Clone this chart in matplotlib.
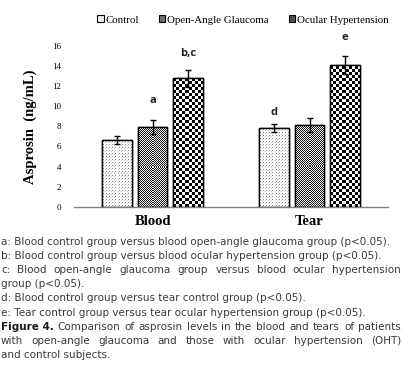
import matplotlib
matplotlib.use("Agg")
import matplotlib.pyplot as plt
import numpy as np
from matplotlib.patches import Patch

# data
groups = ["Blood", "Tear"]
series = ["Control", "Open-Angle Glaucoma", "Ocular Hypertension"]
control = [6.6, 7.8]
oag = [7.9, 8.1]
oht = [12.8, 14.1]
control_err = [0.4, 0.4]
oag_err = [0.7, 0.7]
oht_err = [0.85, 0.9]
sig_labels = {(0, 1): "a", (0, 2): "b,c", (1, 0): "d", (1, 2): "e"}
sig_heights = {(0, 1): 10.6, (0, 2): 15.3, (1, 0): 9.4, (1, 2): 16.8}

# (bold prefix, text, justify)
caption_lines = [
  ("", "a: Blood control group versus blood open-angle glaucoma group (p<0.05).", False),
  ("", "b: Blood control group versus blood ocular hypertension group (p<0.05).", False),
  ("", "c: Blood open-angle glaucoma group versus blood ocular hypertension", True),
  ("", "group (p<0.05).", False),
  ("", "d: Blood control group versus tear control group (p<0.05).", False),
  ("", "e: Tear control group versus tear ocular hypertension group (p<0.05).", False),
  ("Figure 4.", "Comparison of asprosin levels in the blood and tears of patients", True),
  ("", "with open-angle glaucoma and those with ocular hypertension (OHT)", True),
  ("", "and control subjects.", False),
]

W, H = 403, 369
fig = plt.figure(figsize=(W / 100, H / 100), dpi=100)
ax = fig.add_axes([74 / W, 1 - 206.7 / H, 314 / W, 160.7 / H])

x = np.arange(len(groups))
width = 0.185
offsets = [-0.226, 0.0, 0.226]
vals = [control, oag, oht]
errs = [control_err, oag_err, oht_err]


def texture(kind, nx, ny):
  j, i = np.meshgrid(np.arange(nx), np.arange(ny))
  if kind == 0:
    t = np.ones((ny, nx))
    t[((i % 3) == 1) & ((j % 3) == 1)] = 0.55
    t[((i % 3) == 0) & ((j % 3) == 0)] = 0.8
  elif kind == 1:
    t = ((i + j) % 2).astype(float) * 0.85 + 0.1
  else:
    t = (((i // 3) + (j // 3)) % 2).astype(float)
  return t


ax.set_xlim(-0.5, 1.5)
ax.set_ylim(0, 16)
fig.canvas.draw()
for k in range(3):
  bars = ax.bar(x + offsets[k], vals[k], width, color="white",
                edgecolor="black", linewidth=1.0, zorder=2)
  for b in bars:
    x0, y0 = b.get_x(), b.get_y()
    x1, y1 = x0 + b.get_width(), y0 + b.get_height()
    p0 = ax.transData.transform((x0, y0))
    p1 = ax.transData.transform((x1, y1))
    nx = max(int(round(p1[0] - p0[0])), 1)
    ny = max(int(round(p1[1] - p0[1])), 1)
    im = ax.imshow(texture(k, nx, ny), cmap="gray", vmin=0, vmax=1,
                   extent=(x0, x1, y0, y1), origin="lower",
                   interpolation="nearest", aspect="auto", zorder=2.5)
    im.set_clip_path(b)
    ax.add_patch(plt.Rectangle((x0, y0), x1 - x0, y1 - y0, fill=False,
                               edgecolor="black", linewidth=1.0, zorder=3))
  ax.errorbar(x + offsets[k], vals[k], yerr=errs[k], fmt="none",
              ecolor="black", elinewidth=1.0, capsize=2.5, capthick=1.0,
              zorder=4)
ax.set_xlim(-0.5, 1.5)
ax.set_ylim(0, 16)

for (g, k), lab in sig_labels.items():
  ax.text(x[g] + offsets[k], sig_heights[(g, k)], lab, ha="center",
          va="center", fontsize=8, fontweight="bold", family="Open Sans",
          color="#222222", clip_on=False)

for s in ["top", "right", "left"]:
  ax.spines[s].set_visible(False)
ax.spines["bottom"].set_color("#7f7f7f")
ax.spines["bottom"].set_linewidth(1.0)
ax.set_yticks(np.arange(0, 17, 2))
ax.tick_params(axis="y", length=0, labelsize=6.5, pad=9)
ax.tick_params(axis="x", length=0, labelsize=10.5, pad=6)
for t in ax.get_yticklabels():
  t.set_family("Liberation Serif")
ax.set_xticks(x)
ax.set_xticklabels(groups, family="Liberation Serif", fontweight="bold")
ax.set_ylabel("Asprosin  (ng/mL)", family="Liberation Serif",
              fontweight="bold", fontsize=10.5, labelpad=11)

handles = [Patch(facecolor=c, edgecolor="black", linewidth=0.8)
           for c in ["#f0f0f0", "#707070", "#505050"]]
fig.legend(handles, series, loc="center", bbox_to_anchor=(243 / W, 1 - 20 / H),
           ncol=3, frameon=False, prop={"family": "Liberation Serif", "size": 7.8},
           handlelength=0.6, handleheight=0.6, handletextpad=0.2,
           columnspacing=1.8)

# caption
cfam = "DejaVu Sans"
ystart = 242
dy = 14.1
left_px = 1
right_px = 401
fig.canvas.draw()
renderer = fig.canvas.get_renderer()


def measure(s, size, bold=False):
  t = fig.text(0, 0, s, fontsize=size, family=cfam,
               fontweight="bold" if bold else "normal")
  w = t.get_window_extent(renderer).width
  t.remove()
  return w


# fit the font so the first note spans like the reference (~390 px)
fs = 7.0 * 389 / measure(caption_lines[0][1], 7.0)


def put(xpx, ypx, s, bold=False):
  fig.text(xpx / W, 1 - ypx / H, s, fontsize=fs, family=cfam,
           fontweight="bold" if bold else "normal",
           color="#1a1a1a" if bold else "#3a3a3a", va="center", ha="left")


space_w = measure("a a", fs) - measure("aa", fs)
for n, (bold, line, justify) in enumerate(caption_lines):
  ypx = ystart + n * dy
  xpx = left_px
  if bold:
    put(xpx, ypx, bold, bold=True)
    xpx += measure(bold, fs, bold=True) + space_w
  if not justify:
    put(xpx, ypx, line)
    continue
  words = line.split(" ")
  widths = [measure(w, fs) for w in words]
  gap = (right_px - xpx - sum(widths)) / (len(words) - 1)
  for w, ww in zip(words, widths):
    put(xpx, ypx, w)
    xpx += ww + gap

fig.savefig("out.png", dpi=100)
